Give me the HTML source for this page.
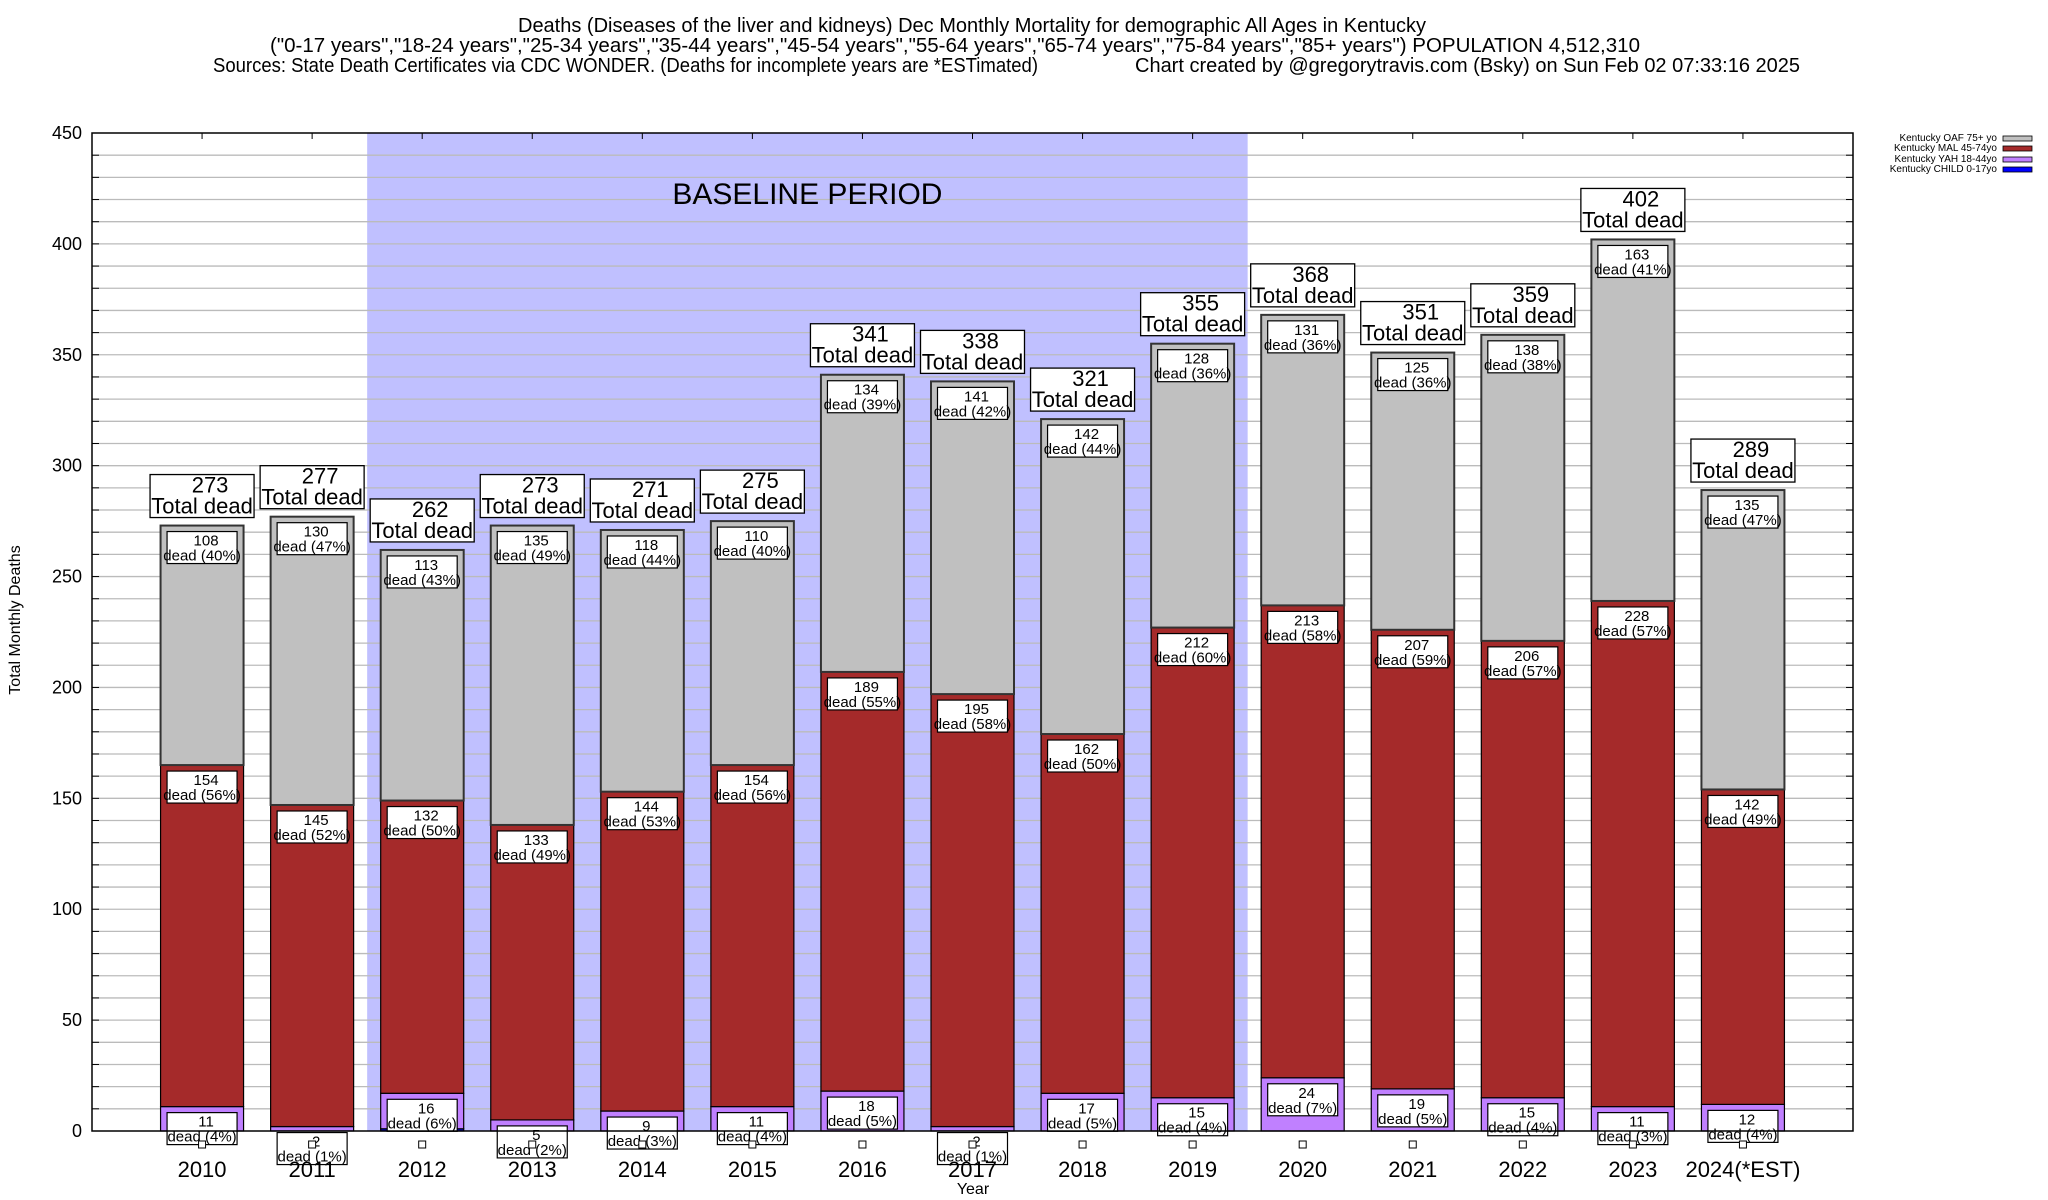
<!DOCTYPE html>
<html><head><meta charset="utf-8">
<style>
html,body{margin:0;padding:0;background:#fff;}
svg{display:block;font-family:"Liberation Sans",Arial,sans-serif;}
</style></head>
<body>
<svg id="chart" width="2048" height="1200" viewBox="0 0 2048 1200" xmlns="http://www.w3.org/2000/svg">
<g font-size="20" fill="#000">
<text x="518" y="32" textLength="908" lengthAdjust="spacingAndGlyphs">Deaths (Diseases of the liver and kidneys) Dec Monthly Mortality for demographic All Ages in Kentucky</text>
<text x="270" y="52" textLength="1370" lengthAdjust="spacingAndGlyphs">("0-17 years","18-24 years","25-34 years","35-44 years","45-54 years","55-64 years","65-74 years","75-84 years","85+ years") POPULATION 4,512,310</text>
<text x="213" y="72" textLength="825" lengthAdjust="spacingAndGlyphs">Sources: State Death Certificates via CDC WONDER. (Deaths for incomplete years are *ESTimated)</text>
<text x="1135" y="72" textLength="665" lengthAdjust="spacingAndGlyphs">Chart created by @gregorytravis.com (Bsky) on Sun Feb 02 07:33:16 2025</text>
</g>
<g id="plot"></g>
<text transform="translate(20,620) rotate(-90)" text-anchor="middle" font-size="16">Total Monthly Deaths</text>
<text x="973" y="1194" text-anchor="middle" font-size="16">Year</text>
<g font-size="10">
<text x="1997" y="141" text-anchor="end">Kentucky OAF 75+ yo</text>
<rect x="2003" y="136" width="29" height="5" fill="#c0c0c0" stroke="#000" stroke-width="0.8"/>
<text x="1997" y="151" text-anchor="end">Kentucky MAL 45-74yo</text>
<rect x="2003" y="146" width="29" height="5" fill="#a52a2a" stroke="#000" stroke-width="0.8"/>
<text x="1997" y="162" text-anchor="end">Kentucky YAH 18-44yo</text>
<rect x="2003" y="157" width="29" height="5" fill="#c080ff" stroke="#000" stroke-width="0.8"/>
<text x="1997" y="172" text-anchor="end">Kentucky CHILD 0-17yo</text>
<rect x="2003" y="167" width="29" height="5" fill="#0000ff" stroke="#000" stroke-width="0.8"/>
</g>
</svg>
<script>
const years = ["2010","2011","2012","2013","2014","2015","2016","2017","2018","2019","2020","2021","2022","2023","2024(*EST)"];
const child = [0,0,1,0,0,0,0,0,0,0,0,0,0,0,0];
const yah = [11,2,16,5,9,11,18,2,17,15,24,19,15,11,12];
const mal = [154,145,132,133,144,154,189,195,162,212,213,207,206,228,142];
const oaf = [108,130,113,135,118,110,134,141,142,128,131,125,138,163,135];
const yahPct = ["4%","1%","6%","2%","3%","4%","5%","1%","5%","4%","7%","5%","4%","3%","4%"];
const malPct = ["56%","52%","50%","49%","53%","56%","55%","58%","50%","60%","58%","59%","57%","57%","49%"];
const oafPct = ["40%","47%","43%","49%","44%","40%","39%","42%","44%","36%","36%","36%","38%","41%","47%"];
const yTicks = [0,50,100,150,200,250,300,350,400,450];
const baselineRange = [2011.5,2019.5];

const NS="http://www.w3.org/2000/svg";
const L=92,R=1853,T=133,B=1131;
const xMin=2009,xMax=2025,yMax=450;
const xs=v=>L+(v-xMin)*(R-L)/(xMax-xMin);
const ys=v=>B-v*(B-T)/yMax;
const plot=document.getElementById('plot');
function mk(tag,attrs,parent){const e=document.createElementNS(NS,tag);for(const k in attrs)e.setAttribute(k,attrs[k]);(parent||plot).appendChild(e);return e;}

const bl=mk('rect',{x:xs(baselineRange[0]),y:T,width:xs(baselineRange[1])-xs(baselineRange[0]),height:B-T,fill:'#c0c0ff'});


for(let v=10;v<yMax;v+=10){
  const g=mk('line',{x1:L,x2:R,y1:ys(v),y2:ys(v),stroke:'#bbb','stroke-width':1.3});
  
  
  mk('line',{x1:L,x2:L+7,y1:ys(v),y2:ys(v),stroke:'#000','stroke-width':1});
  mk('line',{x1:R-7,x2:R,y1:ys(v),y2:ys(v),stroke:'#000','stroke-width':1});
}
const bt=mk('text',{x:(xs(baselineRange[0])+xs(baselineRange[1]))/2,y:204,'text-anchor':'middle','font-size':30});
bt.textContent='BASELINE PERIOD';


yTicks.forEach(v=>{
  const t=mk('text',{x:82,y:ys(v)+6,'text-anchor':'end','font-size':18});
  t.textContent=v;
  
  
});
const bw=83;
function segLabel(cx,top,val,pct,name){
  const g=mk('g',{});
  
  
  mk('rect',{x:cx-35,y:top+6,width:70,height:32,fill:'#fff',stroke:'#000','stroke-width':1.2},g);
  const t1=mk('text',{x:cx+4,y:top+20,'text-anchor':'middle','font-size':15},g);t1.textContent=val;
  const t2=mk('text',{x:cx,y:top+35,'text-anchor':'middle','font-size':15},g);t2.textContent='dead ('+pct+')';
}
years.forEach((yr,i)=>{
  const cx=xs(2010+i);
  const segs=[[child[i],'#0000ff','child'],[yah[i],'#c080ff','yah'],[mal[i],'#a52a2a','mal'],[oaf[i],'#c0c0c0','oaf']];
  let acc=0;const tops=[];
  segs.forEach(s=>{
    const y0=ys(acc),y1=ys(acc+s[0]);
    const r=mk('rect',{x:cx-bw/2,y:y1,width:bw,height:Math.max(0,y0-y1),fill:s[1],stroke:s[2]==='oaf'?'#333':'#000','stroke-width':s[2]==='oaf'?2:1.2});
    
    
    acc+=s[0];tops.push(y1);
  });
  const total=acc;
  segLabel(cx,tops[1],yah[i],yahPct[i],'label-yah-'+yr);
  segLabel(cx,tops[2],mal[i],malPct[i],'label-mal-'+yr);
  segLabel(cx,tops[3],oaf[i],oafPct[i],'label-oaf-'+yr);
  const sq=mk('rect',{x:cx-3.5,y:1141,width:7,height:7,fill:'#fff',stroke:'#000','stroke-width':1});
  
  
  const tg=mk('g',{});
  
  
  const tb=ys(total)-8;
  mk('rect',{x:cx-52,y:tb-43,width:104,height:43,fill:'#fff',stroke:'#000','stroke-width':1.3},tg);
  const a=mk('text',{x:cx+8,y:tb-25,'text-anchor':'middle','font-size':22},tg);a.textContent=total;
  const b=mk('text',{x:cx,y:tb-4,'text-anchor':'middle','font-size':22},tg);b.textContent='Total dead';
  mk('line',{x1:cx,x2:cx,y1:T,y2:T+6,stroke:'#000','stroke-width':1});
  const xt=mk('text',{x:cx,y:1177,'text-anchor':'middle','font-size':22});
  xt.textContent=yr;
  
  
});
const fr=mk('rect',{x:L,y:T,width:R-L,height:B-T,fill:'none',stroke:'#000','stroke-width':1.5});


</script>
</body></html>
